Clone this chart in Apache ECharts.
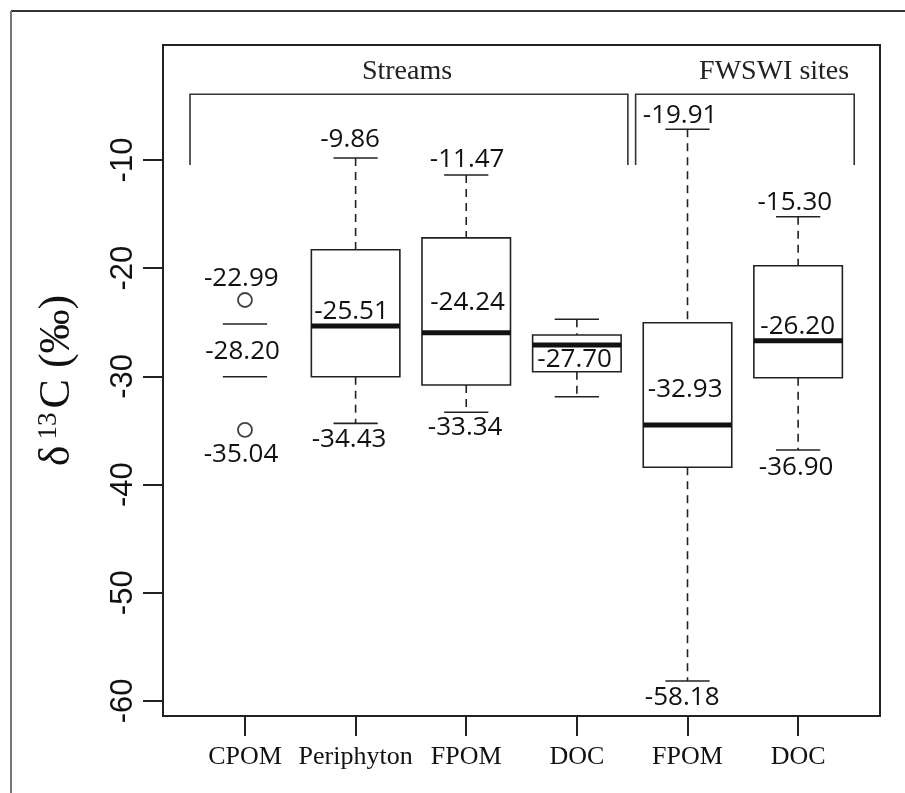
<!DOCTYPE html>
<html>
<head>
<meta charset="utf-8">
<title>d13C boxplot</title>
<script src="https://cdn.jsdelivr.net/npm/echarts@6/dist/echarts.min.js"></script>
<style>
  html, body { margin: 0; padding: 0; background: #fff; }
  #chart { width: 905px; height: 793px; }
</style>
</head>
<body>
<div id="chart"></div>
<script>
// categories along x (positions 1..6)
const categories = ['CPOM', 'Periphyton', 'FPOM', 'DOC', 'FPOM', 'DOC'];

// box parts (per cent, d13C)
const whiskerHigh = [-25.16, -9.82, -11.39, -24.72, -7.16, -15.24];
const boxTop      = [null, -18.3, -17.2, -26.17, -25.04, -19.77];
const medians     = [null, -25.34, -25.96, -27.1, -34.49, -26.7];
const boxBottom   = [null, -30.03, -30.8, -29.57, -38.4, -30.12];
const whiskerLow  = [-30.03, -34.34, -33.32, -31.88, -58.15, -36.8];

// outlier points [x, value]
const outliers = [[1, -22.94], [1, -34.95]];

// printed annotations and where they sit
const noteText = ['-22.99', '-28.20', '-35.04', '-9.86', '-25.51', '-34.43', '-11.47', '-24.24', '-33.34',
                  '-27.70', '-19.91', '-32.93', '-58.18', '-15.30', '-26.20', '-36.90'];
const noteX = [0.967, 0.978, 0.964, 1.95, 1.963, 1.941, 3.008, 3.012, 2.99,
               3.98, 4.933, 4.979, 4.952, 5.97, 5.996, 5.982];
const noteY = [-21.0, -27.72, -37.26, -8.15, -24.02, -35.88, -10.0, -23.17, -34.72,
               -28.44, -5.93, -31.26, -59.72, -13.97, -25.43, -38.47];

// group brackets
const groupNames = ['Streams', 'FWSWI sites'];
const groupFrom = [0.503, 4.531];
const groupTo = [4.461, 6.507];
const groupLabelX = [2.465, 5.783];
const bracketTop = -3.93;
const bracketFoot = -10.46;
const groupLabelY = -1.87;

const yTicks = [-60, -50, -40, -30, -20, -10];
const xTicks = [1, 2, 3, 4, 5, 6];

const ink = '#222';

const chart = echarts.init(document.getElementById('chart'));

function renderBox(params, api) {
  const i = params.dataIndex;
  const x = i + 1;
  const left = api.coord([x - 0.4, 0])[0];
  const right = api.coord([x + 0.4, 0])[0];
  const cx = api.coord([x, 0])[0];
  const capL = api.coord([x - 0.2, 0])[0];
  const capR = api.coord([x + 0.2, 0])[0];
  const py = v => api.coord([x, v])[1];
  const children = [];
  const solid = { stroke: ink, lineWidth: 1.6, fill: null };
  const dashed = { stroke: ink, lineWidth: 1.6, lineDash: [8, 6] };

  children.push({ type: 'line', shape: { x1: capL, y1: py(whiskerHigh[i]), x2: capR, y2: py(whiskerHigh[i]) }, style: solid });
  children.push({ type: 'line', shape: { x1: capL, y1: py(whiskerLow[i]), x2: capR, y2: py(whiskerLow[i]) }, style: solid });

  if (boxTop[i] !== null) {
    const yTop = py(boxTop[i]);
    const yBot = py(boxBottom[i]);
    children.push({ type: 'line', shape: { x1: cx, y1: py(whiskerHigh[i]), x2: cx, y2: yTop }, style: dashed });
    children.push({ type: 'line', shape: { x1: cx, y1: yBot, x2: cx, y2: py(whiskerLow[i]) }, style: dashed });
    children.push({ type: 'rect', shape: { x: left, y: yTop, width: right - left, height: yBot - yTop }, style: solid });
    children.push({ type: 'line', shape: { x1: left, y1: py(medians[i]), x2: right, y2: py(medians[i]) }, style: { stroke: '#111', lineWidth: 5 } });
  }
  return { type: 'group', children: children };
}

function renderNote(params, api) {
  const p = api.coord([api.value(0), api.value(1)]);
  return {
    type: 'text', x: p[0], y: p[1],
    style: {
      text: noteText[params.dataIndex], fill: '#111',
      fontFamily: '"Open Sans", sans-serif', fontSize: 26,
      align: 'center', verticalAlign: 'middle'
    }
  };
}

function renderBracket(params, api) {
  const i = params.dataIndex;
  const a = api.coord([groupFrom[i], bracketFoot]);
  const b = api.coord([groupFrom[i], bracketTop]);
  const c = api.coord([groupTo[i], bracketTop]);
  const d = api.coord([groupTo[i], bracketFoot]);
  const t = api.coord([groupLabelX[i], groupLabelY]);
  return {
    type: 'group',
    children: [
      { type: 'polyline', shape: { points: [a, b, c, d] }, style: { stroke: '#333', lineWidth: 1.6, fill: null } },
      { type: 'text', x: t[0], y: t[1], style: {
          text: groupNames[i], fill: '#222',
          fontFamily: '"Liberation Serif", serif', fontSize: 28,
          align: 'center', verticalAlign: 'middle' } }
    ]
  };
}

const option = {
  animation: false,
  backgroundColor: '#fff',
  grid: {
    left: 163, right: 25, top: 45, bottom: 77,
    show: true, borderColor: ink, borderWidth: 2, backgroundColor: 'transparent'
  },
  graphic: [
    { type: 'line', shape: { x1: 11, y1: 11, x2: 905, y2: 11 }, style: { stroke: '#333', lineWidth: 2 } },
    { type: 'line', shape: { x1: 11, y1: 11, x2: 11, y2: 793 }, style: { stroke: '#777', lineWidth: 2 } }
  ],
  xAxis: {
    type: 'value',
    min: 0.259,
    max: 6.74,
    splitLine: { show: false },
    axisLine: { show: true, onZero: false, lineStyle: { color: ink, width: 2 } },
    axisTick: { show: true, customValues: xTicks, length: 20, lineStyle: { color: ink, width: 2 } },
    axisLabel: {
      customValues: xTicks,
      formatter: v => categories[Math.round(v) - 1],
      fontFamily: '"Liberation Serif", serif', fontSize: 26, color: '#111', margin: 28
    }
  },
  yAxis: {
    type: 'value',
    min: -61.39,
    max: 0.628,
    splitLine: { show: false },
    axisLine: { show: true, onZero: false, lineStyle: { color: ink, width: 2 } },
    axisTick: { show: true, customValues: yTicks, length: 20, lineStyle: { color: ink, width: 2 } },
    axisLabel: {
      customValues: yTicks, rotate: 90,
      fontFamily: '"Liberation Sans", Arial, sans-serif', fontSize: 31, color: '#111', margin: 24
    },
    name: '{d|δ}{s|13}{d|C (‰)}',
    nameLocation: 'middle',
    nameRotate: 90,
    nameGap: 84,
    nameTextStyle: {
      rich: {
        d: { fontFamily: '"Liberation Serif", serif', fontSize: 44, color: '#111' },
        s: { fontFamily: '"Liberation Serif", serif', fontSize: 27, color: '#111', verticalAlign: 'top', padding: [0, 4, 0, 6] }
      }
    }
  },
  series: [
    {
      type: 'custom',
      name: 'boxes',
      renderItem: renderBox,
      data: categories.map((c, i) => [i + 1, whiskerLow[i], whiskerHigh[i]]),
      encode: { x: 0, y: [1, 2] },
      z: 2
    },
    {
      type: 'scatter',
      name: 'outliers',
      data: outliers,
      symbol: 'circle',
      symbolSize: 14,
      itemStyle: { color: '#fff', borderColor: '#111', borderWidth: 1.8 },
      z: 3
    },
    {
      type: 'custom',
      name: 'notes',
      renderItem: renderNote,
      data: noteX.map((x, i) => [x, noteY[i]]),
      z: 4
    },
    {
      type: 'custom',
      name: 'groups',
      renderItem: renderBracket,
      data: groupNames.map((g, i) => [groupLabelX[i], groupLabelY]),
      z: 2
    }
  ]
};

chart.setOption(option);
</script>
</body>
</html>
